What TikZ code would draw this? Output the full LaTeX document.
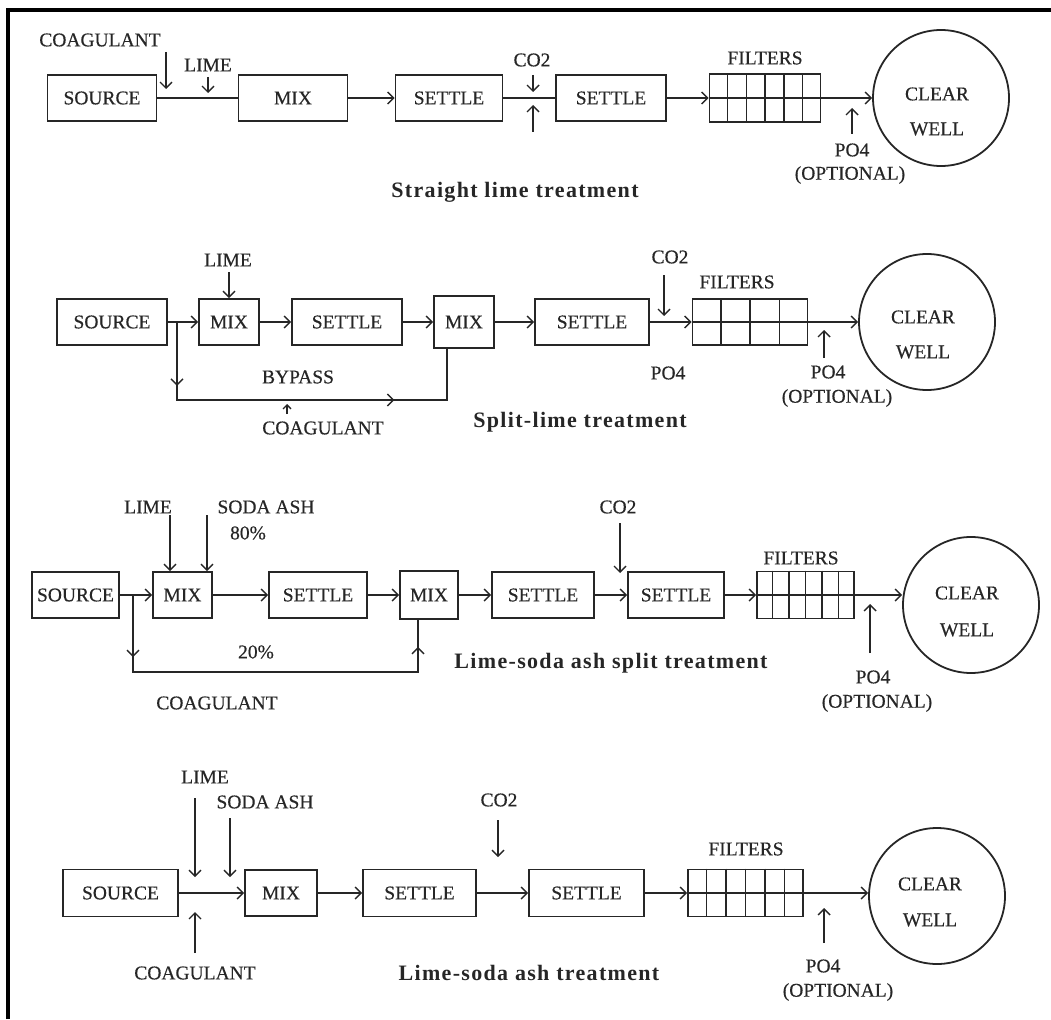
\documentclass[tikz,border=0pt]{standalone}
\usepackage{fontspec}
\setmainfont{Liberation Serif}
\newfontfamily\lblfam[FakeBold=0.4]{Liberation Serif}
\newfontfamily\ttlfam[LetterSpace=6]{Liberation Serif}
\usetikzlibrary{arrows.meta,decorations.markings,calc}
\definecolor{ink}{HTML}{262626}
\newcommand\lblfont{\lblfam\fontsize{19.5}{21}\selectfont}
\newcommand\ttlfont{\ttlfam\bfseries\fontsize{22}{24}\selectfont}
\tikzset{
  ln/.style={draw=ink, line width=1.4pt},
  box/.style={draw=ink, line width=1.8pt, inner sep=0pt, minimum height=46pt, font=\lblfont, text=ink},
  filt/.style={draw=ink, line width=1.8pt, inner sep=0pt, minimum height=47pt},
  lab/.style={inner sep=0pt, font=\lblfont, text=ink},
  ttl/.style={inner sep=0pt, font=\ttlfont, text=ink},
  arr/.style={ln, -{Straight Barb[length=6pt,width=12pt]}},
  well/.style={circle, draw=ink, line width=1.8pt, minimum size=136pt, inner sep=0pt},
}
\begin{document}
\begin{tikzpicture}[x=1pt,y=-1pt]
\useasboundingbox (0,0) rectangle (1051,1019);
\draw[line width=4pt, black] (8,1019) -- (8,10) -- (1051,10);

% ---------------- Row 1 ----------------
\node[box, minimum width=109pt] (src1) at (102,98) {SOURCE};
\node[box, minimum width=109pt] (mix1) at (293,98) {MIX};
\node[box, minimum width=107pt] (set1a) at (449,98) {SETTLE};
\node[box, minimum width=110pt] (set1b) at (611,98) {SETTLE};
\node[filt, minimum width=111pt, minimum height=48pt] (fil1) at (765,98) {};
\node[well] (well1) at (941,98) {};
\node[lab] (clear1) at (937,94) {CLEAR};
\node[lab] (wellt1) at (937,129) {WELL};
\foreach \i in {1,...,5} \draw[ln] ($(fil1.north west)!\i/6!(fil1.north east)$) -- ($(fil1.south west)!\i/6!(fil1.south east)$);
\draw[ln] (src1) -- (mix1);
\draw[arr] (mix1) -- (set1a);
\draw[ln] (set1a) -- (set1b);
\draw[arr] (set1b) -- (fil1.west);
\draw[ln] (fil1.west) -- (fil1.east);
\draw[arr] (fil1.east) -- (well1.west);
\node[lab] (coag1) at (100,40) {COAGULANT};
\node[lab] (lime1) at (208,65) {LIME};
\node[lab] (co21) at (532,60) {CO2};
\node[lab] (filt1) at (765,58) {FILTERS};
\node[lab] (po41) at (852,150) {PO4};
\node[lab] (opt1) at (850,175) {(OPTIONAL)};
\node[ttl] (title1) at (515,192) {Straight lime treatment};
\coordinate (c1a) at (166,52); \coordinate (c1b) at (166,89);
\coordinate (l1a) at (208,77); \coordinate (l1b) at (208,93);
\coordinate (o1a) at (533,75); \coordinate (o1b) at (533,92);
\coordinate (u1a) at (533,132); \coordinate (u1b) at (533,105);
\coordinate (p1a) at (852,134); \coordinate (p1b) at (852,108);
\draw[arr] (c1a) -- (c1b);
\draw[arr] (l1a) -- (l1b);
\draw[arr] (o1a) -- (o1b);
\draw[arr] (u1a) -- (u1b);
\draw[arr] (p1a) -- (p1b);

% ---------------- Row 2 ----------------
\node[box, minimum width=110pt] (src2) at (112,322) {SOURCE};
\node[box, minimum width=60pt] (mix2a) at (229,322) {MIX};
\node[box, minimum width=110pt] (set2a) at (347,322) {SETTLE};
\node[box, minimum width=60pt, minimum height=52pt] (mix2b) at (464,322) {MIX};
\node[box, minimum width=114pt] (set2b) at (592,322) {SETTLE};
\node[filt, minimum width=115pt, minimum height=46pt] (fil2) at (750,322) {};
\node[well] (well2) at (927,322) {};
\node[lab] (clear2) at (923,317) {CLEAR};
\node[lab] (wellt2) at (923,352) {WELL};
\foreach \i in {1,...,3} \draw[ln] ($(fil2.north west)!\i/4!(fil2.north east)$) -- ($(fil2.south west)!\i/4!(fil2.south east)$);
\draw[arr] (src2) -- (mix2a);
\draw[arr] (mix2a) -- (set2a);
\draw[arr] (set2a) -- (mix2b);
\draw[arr] (mix2b) -- (set2b);
\draw[arr] (set2b) -- (fil2.west);
\draw[ln] (fil2.west) -- (fil2.east);
\draw[arr] (fil2.east) -- (well2.west);
\coordinate (j2) at (177,322);
\coordinate (b2) at (177,400);
\coordinate (e2) at (447,400);
\draw[ln, postaction={decorate}, decoration={markings,
   mark=at position 0.16 with {\arrow{Straight Barb[length=6pt,width=12pt]}},
   mark=at position 0.74 with {\arrow{Straight Barb[length=6pt,width=12pt]}}}]
   (j2) -- (b2) -- (e2) -- (e2 |- mix2b.south);
\node[lab] (lime2) at (228,260) {LIME};
\node[lab] (bypass2) at (298,377) {BYPASS};
\node[lab] (coag2) at (323,428) {COAGULANT};
\node[lab] (co22) at (670,257) {CO2};
\node[lab] (po42a) at (668,373) {PO4};
\node[lab] (filt2) at (737,282) {FILTERS};
\node[lab] (po42) at (828,372) {PO4};
\node[lab] (opt2) at (837,398) {(OPTIONAL)};
\node[ttl] (title2) at (580,422) {Split-lime treatment};
\coordinate (l2a) at (229,272);
\coordinate (k2a) at (287,414); \coordinate (k2b) at (287,404);
\coordinate (o2a) at (664,275); \coordinate (o2b) at (664,316);
\coordinate (p2a) at (824,358); \coordinate (p2b) at (824,330);
\draw[arr] (l2a) -- (mix2a.north);
\draw[ln, -{Straight Barb[length=4pt,width=8pt]}] (k2a) -- (k2b);
\draw[arr] (o2a) -- (o2b);
\draw[arr] (p2a) -- (p2b);

% ---------------- Row 3 ----------------
\node[box, minimum width=87pt] (src3) at (75.5,595) {SOURCE};
\node[box, minimum width=59pt] (mix3a) at (182.5,595) {MIX};
\node[box, minimum width=98pt] (set3a) at (318,595) {SETTLE};
\node[box, minimum width=58pt, minimum height=48pt] (mix3b) at (429,595) {MIX};
\node[box, minimum width=102pt] (set3b) at (543,595) {SETTLE};
\node[box, minimum width=96pt] (set3c) at (676,595) {SETTLE};
\node[filt, minimum width=97pt] (fil3) at (805.5,595) {};
\node[well] (well3) at (971,605) {};
\node[lab] (clear3) at (967,593) {CLEAR};
\node[lab] (wellt3) at (967,630) {WELL};
\foreach \i in {1,...,5} \draw[ln] ($(fil3.north west)!\i/6!(fil3.north east)$) -- ($(fil3.south west)!\i/6!(fil3.south east)$);
\draw[arr] (src3) -- (mix3a);
\draw[arr] (mix3a) -- (set3a);
\draw[arr] (set3a) -- (mix3b);
\draw[arr] (mix3b) -- (set3b);
\draw[arr] (set3b) -- (set3c);
\draw[arr] (set3c) -- (fil3.west);
\draw[ln] (fil3.west) -- (fil3.east);
\draw[arr] (fil3.east) -- (fil3.east -| well3.west);
\coordinate (j3) at (133,595);
\coordinate (b3) at (133,672);
\coordinate (e3) at (418,672);
\draw[ln, postaction={decorate}, decoration={markings,
   mark=at position 0.15 with {\arrow{Straight Barb[length=6pt,width=12pt]}},
   mark=at position 0.935 with {\arrow{Straight Barb[length=6pt,width=12pt]}}}]
   (j3) -- (b3) -- (e3) -- (e3 |- mix3b.south);
\node[lab] (lime3) at (148,507) {LIME};
\node[lab] (soda3) at (266,507) {SODA ASH};
\node[lab] (pct80) at (248,533) {80\%};
\node[lab] (pct20) at (256,652) {20\%};
\node[lab] (coag3) at (217,703) {COAGULANT};
\node[lab] (co23) at (618,507) {CO2};
\node[lab] (filt3) at (801,558) {FILTERS};
\node[lab] (po43) at (873,677) {PO4};
\node[lab] (opt3) at (877,703) {(OPTIONAL)};
\node[ttl] (title3) at (611,663) {Lime-soda ash split treatment};
\coordinate (l3a) at (170,515);
\coordinate (s3a) at (207,515);
\coordinate (o3a) at (620,523); \coordinate (o3b) at (620,573);
\coordinate (p3a) at (870,653); \coordinate (p3b) at (870,604);
\draw[arr] (l3a) -- (l3a |- mix3a.north);
\draw[arr] (s3a) -- (s3a |- mix3a.north);
\draw[arr] (o3a) -- (o3b);
\draw[arr] (p3a) -- (p3b);

% ---------------- Row 4 ----------------
\node[box, minimum width=115pt, minimum height=47pt] (src4) at (120.5,893) {SOURCE};
\node[box, minimum width=72pt] (mix4) at (281,893) {MIX};
\node[box, minimum width=113pt, minimum height=47pt] (set4a) at (419.5,893) {SETTLE};
\node[box, minimum width=115pt, minimum height=47pt] (set4b) at (586.5,893) {SETTLE};
\node[filt, minimum width=115pt] (fil4) at (745.5,893) {};
\node[well] (well4) at (937,896) {};
\node[lab] (clear4) at (930,884) {CLEAR};
\node[lab] (wellt4) at (930,920) {WELL};
\foreach \i in {1,...,5} \draw[ln] ($(fil4.north west)!\i/6!(fil4.north east)$) -- ($(fil4.south west)!\i/6!(fil4.south east)$);
\draw[arr] (src4) -- (mix4);
\draw[arr] (mix4) -- (set4a);
\draw[arr] (set4a) -- (set4b);
\draw[arr] (set4b) -- (fil4.west);
\draw[ln] (fil4.west) -- (fil4.east);
\draw[arr] (fil4.east) -- (fil4.east -| well4.west);
\node[lab] (lime4) at (205,777) {LIME};
\node[lab] (soda4) at (265,802) {SODA ASH};
\node[lab] (coag4) at (195,973) {COAGULANT};
\node[lab] (co24) at (499,800) {CO2};
\node[lab] (filt4) at (746,849) {FILTERS};
\node[lab] (po44) at (823,966) {PO4};
\node[lab] (opt4) at (838,992) {(OPTIONAL)};
\node[ttl] (title4) at (529,973) {Lime-soda ash treatment};
\coordinate (l4a) at (195,798); \coordinate (l4b) at (195,877);
\coordinate (s4a) at (230,818); \coordinate (s4b) at (230,877);
\coordinate (k4a) at (195,953); \coordinate (k4b) at (195,912);
\coordinate (o4a) at (498,820); \coordinate (o4b) at (498,857);
\coordinate (p4a) at (824,943); \coordinate (p4b) at (824,908);
\draw[arr] (l4a) -- (l4b);
\draw[arr] (s4a) -- (s4b);
\draw[arr] (k4a) -- (k4b);
\draw[arr] (o4a) -- (o4b);
\draw[arr] (p4a) -- (p4b);
\end{tikzpicture}
\end{document}
